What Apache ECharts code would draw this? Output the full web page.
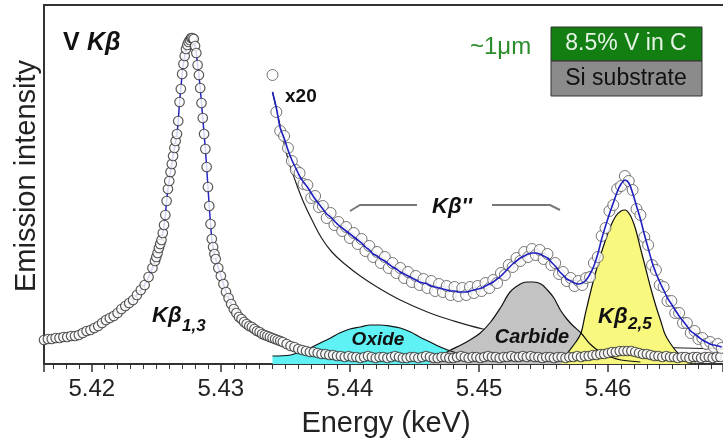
<!DOCTYPE html>
<html>
<head>
<meta charset="utf-8">
<script src="https://cdn.jsdelivr.net/npm/echarts@6/dist/echarts.min.js"></script>
<style>
  html, body { margin: 0; padding: 0; background: #fff; }
  #chart { width: 723px; height: 443px; }
</style>
</head>
<body>
<div id="chart"></div>
<script>
// V Kbeta emission spectrum (intensity in arb. units)

// measured spectrum, x1 : [energy keV, intensity]
const X1_SPECTRUM = [
  [5.4163,24],[5.4166,25],[5.4169,25],[5.4172,26],[5.4175,26],[5.4178,27],[5.4181,27],[5.4184,28],
  [5.4187,28],[5.4190,29],[5.4193,31],[5.4196,33],[5.4199,34],[5.4202,36],[5.4205,38],[5.4208,41],
  [5.4211,44],[5.4214,46],[5.4217,48],[5.4220,51],[5.4223,55],[5.4226,58],[5.4229,61],[5.4232,64],
  [5.4235,69],[5.4238,74],[5.4241,79],[5.4244,87],[5.4247,96],[5.4249,103],
  [5.4250,107],[5.4251,111],[5.4252,116],[5.4253,120],[5.4254,124],[5.4255,131],[5.4256,139],
  [5.4257,149],[5.4258,163],[5.4259,175],[5.4260,183],[5.4261,192],[5.4262,200],[5.4263,208],
  [5.4264,216],[5.4265,223],[5.4266,230],[5.4267,243],[5.4268,262],[5.4269,275],[5.4270,290],
  [5.4271,300],[5.4272,308],[5.4273,315],[5.4274,319],[5.4275,322],[5.4276,324],[5.4277,326],
  [5.4278,326],[5.4279,325],[5.4280,318],[5.4281,311],[5.4282,299],[5.4283,289],[5.4284,276],
  [5.4285,261],[5.4286,246],[5.4287,230],[5.4288,215],[5.4289,197],[5.4290,177],[5.4291,158],
  [5.4292,140],[5.4293,125],[5.4294,117],[5.4295,110],[5.4296,105],
  [5.4298,96],[5.4300,88],[5.4302,80],[5.4304,72],[5.4306,66],[5.4308,60],[5.4310,55],[5.4312,51],
  [5.4314,47],[5.4316,45],[5.4318,42],[5.4320,40],[5.4322,38],[5.4324,37],[5.4326,35],[5.4328,33],
  [5.4330,32],[5.4332,30],[5.4334,29],[5.4336,28],[5.4338,27],[5.4340,26],[5.4342,25],[5.4344,24],
  [5.4346,23],[5.4348,22],
  [5.4351,20],[5.4354,18],[5.4357,17],[5.4360,15],[5.4363,14],[5.4366,13],[5.4369,12],[5.4372,12],
  [5.4375,11],[5.4378,10],[5.4381,10],[5.4384,9],[5.4387,9],[5.4390,8],[5.4393,8],[5.4396,7],
  [5.4399,8],[5.4402,7],[5.4405,7],[5.4408,6],[5.4411,7],[5.4414,8],[5.4417,7],[5.4420,6],
  [5.4423,7],[5.4426,7],[5.4429,6],[5.4432,7],[5.4435,8],[5.4438,7],[5.4441,6],[5.4444,6],
  [5.4447,7],[5.4450,7],[5.4453,6],[5.4456,7],[5.4459,8],[5.4462,7],[5.4465,6],[5.4468,6],
  [5.4471,7],[5.4474,7],[5.4477,6],[5.4480,6],[5.4483,7],[5.4486,8],[5.4489,7],[5.4492,6],
  [5.4495,7],[5.4498,7],[5.4501,6],[5.4504,7],[5.4507,8],[5.4510,7],[5.4513,7],[5.4516,6],
  [5.4519,7],[5.4522,7],[5.4525,8],[5.4528,7],[5.4531,7],[5.4534,8],[5.4537,7],[5.4540,8],
  [5.4543,7],[5.4546,7],[5.4549,6],[5.4552,7],[5.4555,7],[5.4558,6],[5.4561,7],[5.4564,7],
  [5.4567,6],[5.4570,7],[5.4573,7],[5.4576,8],[5.4579,7],[5.4582,8],[5.4585,8],[5.4588,9],
  [5.4591,9],[5.4594,10],[5.4597,10],[5.4600,11],[5.4603,12],[5.4606,12],[5.4609,13],[5.4612,13],
  [5.4615,13],[5.4618,13],[5.4621,12],[5.4624,11],[5.4627,10],[5.4630,10],[5.4633,9],[5.4636,8],
  [5.4639,8],[5.4642,7],[5.4645,8],[5.4648,7],[5.4651,7],[5.4654,6],[5.4657,7],[5.4660,7],
  [5.4663,6],[5.4666,7],[5.4669,7],[5.4672,6],[5.4675,7],[5.4678,7],[5.4681,6],[5.4684,7],
  [5.4687,7]
];

// x20 magnified part, sampled every 0.3 eV from 5.4340 keV
const X20_START = 5.4340;
const X20_STEP = 0.0003;
const X20_MEASURED = [
  289,252,233,228,216,203,194,191,180,
  179,166,168,157,158,146,151,139,142,133,
  137,126,131,120,125,113,118,107,112,101,
  107,96,101,91,96,86,92,82,88,79,
  85,76,83,73,80,72,78,69,77,68,
  76,69,77,71,78,73,81,76,84,81,
  91,89,99,97,106,103,112,107,115,109,
  114,105,110,99,101,90,92,83,86,78,
  83,79,86,87,101,107,128,136,153,159,
  175,178,188,183,174,155,149,127,119,99,
  94,79,77,63,63,51,51,41,41,31,
  33,25,26,20,22,17,20,16
];
const X20_FIT = [
  272,256,236,226,214,204,196,188,182,
  177,171,165,160,155,150,147,143,139,136,
  133,130,127,124,121,117,114,110,108,105,
  103,100,97,95,92,90,88,86,84,82,
  81,80,78,77,76,75,74,73,73,72,
  72,72,73,74,75,76,78,80,82,85,
  88,92,96,100,103,106,108,110,111,111,
  110,108,106,102,98,93,89,85,83,81,
  80,81,84,90,98,110,125,138,150,161,
  172,180,184,181,171,158,145,130,116,102,
  91,82,74,66,60,54,48,43,38,33,
  30,27,24,22,20,19,18,17
];

// Kbeta1,3 tail (x20)
const KB13_TAIL = [
  [5.4340,272],[5.4346,238],[5.4352,205],[5.4358,182],[5.4364,162],[5.4371,143],[5.4378,126],
  [5.4386,112],[5.4396,100],[5.4408,88],[5.4421,77],[5.4439,64],[5.4460,52],[5.4478,44],
  [5.4503,35],[5.4532,28],[5.4563,23],[5.4594,20],[5.4633,17],[5.4689,15]
];

// fitted components (x20)
const OXIDE = [
  [5.4340,8],[5.4354,9],[5.4361,12],[5.4369,16],[5.4377,21],[5.4385,26],[5.4392,31],[5.4400,35],
  [5.4408,37],[5.4416,39],[5.4423,39],[5.4431,38],[5.4439,36],[5.4447,32],[5.4454,27],[5.4462,22],
  [5.4470,17],[5.4478,13],[5.4486,10],[5.4493,8],[5.4501,6],[5.4517,4],[5.4532,3]
];
const CARBIDE = [
  [5.4462,5],[5.4470,8],[5.4478,14],[5.4486,19],[5.4493,24],[5.4501,31],[5.4509,42],[5.4517,57],
  [5.4524,72],[5.4532,80],[5.4537,82],[5.4542,82],[5.4548,80],[5.4553,74],[5.4558,66],[5.4563,54],
  [5.4568,45],[5.4573,38],[5.4579,31],[5.4586,20],[5.4594,12],[5.4602,7],[5.4610,4],[5.4625,2]
];
const KB25 = [
  [5.4564,3],[5.4568,10],[5.4575,22],[5.4579,31],[5.4582,48],[5.4586,70],[5.4590,90],[5.4594,108],
  [5.4598,124],[5.4602,138],[5.4606,148],[5.4610,153],[5.4613,154],[5.4617,149],[5.4621,136],
  [5.4625,116],[5.4629,96],[5.4633,76],[5.4637,58],[5.4641,42],[5.4644,30],[5.4648,21],
  [5.4654,11],[5.4660,5],[5.4668,2]
];

const X_MIN = 5.4163;
const X_MAX = 5.4689;
const FONT = 'Arial, "Liberation Sans", sans-serif';

const x20Measured = X20_MEASURED.map((v, i) => [+(X20_START + i * X20_STEP).toFixed(4), v]);
const x20Fit = X20_FIT.map((v, i) => [+(X20_START + i * X20_STEP).toFixed(4), v]);

function component(data, fill) {
  return {
    type: 'line', data: data, smooth: 0.35, symbol: 'none', z: 3, silent: true,
    lineStyle: { color: '#111', width: 1.2 },
    areaStyle: { color: fill, opacity: 1 }
  };
}

function label(text, x, y, font, fill, align) {
  return {
    type: 'text', x: x, y: y, z: 100, silent: true,
    style: {
      text: text, font: font, fill: fill || '#111',
      align: align || 'left', textAlign: align || 'left',
      verticalAlign: 'middle', textVerticalAlign: 'middle'
    }
  };
}

const chart = echarts.init(document.getElementById('chart'));

const option = {
  animation: false,
  grid: { left: 44, right: 0, top: 5, bottom: 79 },
  xAxis: [{
    type: 'value', min: X_MIN, max: X_MAX,
    axisLine: { onZero: false, lineStyle: { color: '#333', width: 2 } },
    axisTick: { length: 8, lineStyle: { color: '#333', width: 1.5 } },
    minorTick: { show: true, splitNumber: 10, length: 5, lineStyle: { color: '#333', width: 1 } },
    axisLabel: {
      fontSize: 24, fontFamily: FONT, color: '#222', margin: 13,
      showMinLabel: false, showMaxLabel: false,
      formatter: v => v.toFixed(2)
    },
    splitLine: { show: false }
  }, {
    type: 'value', position: 'top', min: X_MIN, max: X_MAX,
    axisLine: { show: true, onZero: false, lineStyle: { color: '#333', width: 2 } },
    axisTick: { show: false }, axisLabel: { show: false }, splitLine: { show: false }
  }],
  yAxis: {
    type: 'value', min: 0, max: 359,
    axisLine: { show: true, lineStyle: { color: '#333', width: 2 } },
    axisTick: { show: false }, axisLabel: { show: false }, splitLine: { show: false }
  },
  series: [
    // Kb1,3 tail under the components
    { type: 'line', data: KB13_TAIL, smooth: 0.4, symbol: 'none', z: 2, silent: true,
      lineStyle: { color: '#222', width: 1.2 } },
    component(OXIDE, '#5ff2f4'),
    component(CARBIDE, '#c3c3c3'),
    component(KB25, '#f8f87e'),
    // fit of the x1 spectrum, mostly hidden by the circles
    { type: 'line', data: X1_SPECTRUM, smooth: 0.2, symbol: 'none', z: 4, silent: true,
      lineStyle: { color: '#2626c4', width: 1.5 } },
    { type: 'scatter', data: X1_SPECTRUM, symbol: 'circle', symbolSize: 9.5, z: 5, silent: true,
      itemStyle: { color: '#fff', borderColor: '#2e2e2e', borderWidth: 1.2 } },
    { type: 'scatter', data: x20Measured, symbol: 'circle', symbolSize: 11, z: 6, silent: true,
      itemStyle: { color: '#fff', borderColor: '#555', borderWidth: 1 } },
    { type: 'line', data: x20Fit, smooth: 0.4, symbol: 'none', z: 7, silent: true,
      lineStyle: { color: '#2020c0', width: 1.6 } }
  ],
  graphic: [
    // axis titles
    Object.assign(label('Emission intensity', 27, 176, '29px ' + FONT, '#222', 'center'),
      { rotation: Math.PI / 2 }),
    label('Energy (keV)', 386, 424, '29px ' + FONT, '#222', 'center'),
    // panel title
    label('V', 63, 43, 'bold 25px ' + FONT, '#111'),
    label('K\u03b2', 87, 43, 'italic bold 25px ' + FONT, '#111'),
    label('x20', 285, 97, 'bold 19px ' + FONT, '#111'),
    label('~1\u03bcm', 470, 47, '24px ' + FONT, '#2a8c2a'),
    // sample legend box
    { type: 'rect', z: 100, silent: true, shape: { x: 551, y: 27, width: 151, height: 34 },
      style: { fill: '#137f13', stroke: '#333', lineWidth: 1 } },
    { type: 'rect', z: 100, silent: true, shape: { x: 551, y: 61, width: 151, height: 35 },
      style: { fill: '#8b8b8b', stroke: '#333', lineWidth: 1 } },
    label('8.5% V in C', 626, 44, '23px ' + FONT, '#e6f3e6', 'center'),
    label('Si substrate', 626, 79, '23px ' + FONT, '#111', 'center'),
    // peak labels
    label('K\u03b2', 152, 316, 'italic bold 22px ' + FONT, '#111'),
    label('1,3', 182, 326, 'italic bold 17px ' + FONT, '#111'),
    label('K\u03b2', 598, 317, 'italic bold 22px ' + FONT, '#111'),
    label('2,5', 628, 324, 'italic bold 17px ' + FONT, '#111'),
    label("K\u03b2''", 432, 207, 'italic bold 22px ' + FONT, '#111'),
    label('Oxide', 378, 340, 'italic bold 19px ' + FONT, '#111', 'center'),
    label('Carbide', 532, 337, 'italic bold 20px ' + FONT, '#111', 'center'),
    // Kb'' bracket
    { type: 'polyline', z: 100, silent: true,
      shape: { points: [[350, 211], [360, 205], [417, 205]] },
      style: { stroke: '#777', lineWidth: 2, fill: null } },
    { type: 'polyline', z: 100, silent: true,
      shape: { points: [[492, 205], [550, 205], [560, 210]] },
      style: { stroke: '#777', lineWidth: 2, fill: null } }
  ]
};

chart.setOption(option);
</script>
</body>
</html>
